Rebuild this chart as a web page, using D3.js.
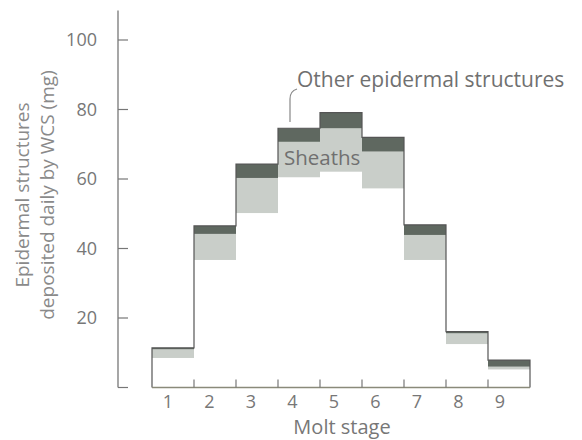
<!DOCTYPE html>
<html>
<head>
<meta charset="utf-8">
<script src="https://cdn.jsdelivr.net/npm/d3@7"></script>
<style>
  html, body { margin: 0; padding: 0; background: #fff; }
  svg { display: block; font-family: "Open Sans", sans-serif; }
</style>
</head>
<body>
<svg id="chart" width="582" height="440"></svg>
<script>
// ---- data ----
const stages = [1, 2, 3, 4, 5, 6, 7, 8, 9];
const baseWhite = [8.5, 36.7, 50.2, 60.5, 62.1, 57.3, 36.7, 12.5, 5.2];
const sheaths   = [2.5, 7.5, 10.1, 10.2, 12.5, 10.6, 7.2, 3.1, 0.8];
const other     = [0.4, 2.3, 4.0, 3.9, 4.5, 4.1, 2.9, 0.5, 1.9];
const yTicks = [0, 20, 40, 60, 80, 100];
const yTickLabels = ["", "20", "40", "60", "80", "100"];
const xTickLabels = ["1", "2", "3", "4", "5", "6", "7", "8", "9"];
const boundaries = [1.5, 2.5, 3.5, 4.5, 5.5, 6.5, 7.5, 8.5];

const svg = d3.select("#chart");

const x = d3.scaleLinear().domain([0.5, 9.5]).range([152, 530]);
const xLab = d3.scaleLinear().domain([1, 9]).range([168, 500]);
const y = d3.scaleLinear().domain([0, 100]).range([387.5, 40]);

const rows = stages.map((s, i) => ({
  stage: s,
  b: baseWhite[i],
  s1: baseWhite[i] + sheaths[i],
  t: baseWhite[i] + sheaths[i] + other[i]
}));

// sheaths band
svg.append("g").selectAll("rect").data(rows).join("rect")
  .attr("x", d => x(d.stage - 0.5))
  .attr("width", d => x(d.stage + 0.5) - x(d.stage - 0.5))
  .attr("y", d => y(d.s1))
  .attr("height", d => y(d.b) - y(d.s1))
  .attr("fill", "#c9cec9");

// other band
svg.append("g").selectAll("rect").data(rows).join("rect")
  .attr("x", d => x(d.stage - 0.5))
  .attr("width", d => x(d.stage + 0.5) - x(d.stage - 0.5))
  .attr("y", d => y(d.t))
  .attr("height", d => y(d.s1) - y(d.t))
  .attr("fill", "#5f6860");

// step outline
const pts = [[x(0.5), y(0)]];
rows.forEach(d => {
  pts.push([x(d.stage - 0.5), y(d.t)]);
  pts.push([x(d.stage + 0.5), y(d.t)]);
});
pts.push([x(9.5), y(0)]);
svg.append("path")
  .attr("d", d3.line()(pts))
  .attr("fill", "none")
  .attr("stroke", "#555")
  .attr("stroke-width", 1.2);

// x axis line and ticks
svg.append("line")
  .attr("x1", x(0.5)).attr("x2", x(9.5))
  .attr("y1", y(0)).attr("y2", y(0))
  .attr("stroke", "#8a8a7a").attr("stroke-width", 1.3);
svg.append("g").selectAll("line").data(boundaries).join("line")
  .attr("x1", d => x(d)).attr("x2", d => x(d))
  .attr("y1", y(0)).attr("y2", y(0) - 8)
  .attr("stroke", "#777").attr("stroke-width", 1.2);
svg.append("g").selectAll("text").data(stages).join("text")
  .attr("x", d => xLab(d))
  .attr("y", 408)
  .attr("text-anchor", "middle")
  .attr("font-size", 18)
  .attr("fill", "#777")
  .text((d, i) => xTickLabels[i]);

// y axis
svg.append("line")
  .attr("x1", 118).attr("x2", 118)
  .attr("y1", y(0)).attr("y2", y(108.5))
  .attr("stroke", "#777").attr("stroke-width", 1.3);
svg.append("g").selectAll("line").data(yTicks).join("line")
  .attr("x1", 118).attr("x2", 128)
  .attr("y1", d => y(d)).attr("y2", d => y(d))
  .attr("stroke", "#777").attr("stroke-width", 1.2);
svg.append("g").selectAll("text").data(yTicks).join("text")
  .attr("x", 97)
  .attr("y", d => y(d) + 6)
  .attr("text-anchor", "end")
  .attr("font-size", 18)
  .attr("fill", "#777")
  .text((d, i) => yTickLabels[i]);

// axis titles
svg.append("text")
  .attr("x", 342).attr("y", 434)
  .attr("text-anchor", "middle")
  .attr("font-size", 20)
  .attr("fill", "#777")
  .text("Molt stage");
const yt = svg.append("text")
  .attr("transform", "translate(0,195) rotate(-90)")
  .attr("text-anchor", "middle")
  .attr("font-size", 19)
  .attr("fill", "#8a8a8a");
yt.append("tspan").attr("x", 0).attr("y", 29).text("Epidermal structures");
yt.append("tspan").attr("x", 0).attr("y", 54).text("deposited daily by WCS (mg)");

// annotations
svg.append("text")
  .attr("x", 284).attr("y", 165)
  .attr("font-size", 20.5)
  .attr("fill", "#707070")
  .text("Sheaths");
svg.append("text")
  .attr("x", 297).attr("y", 87)
  .attr("font-size", 21)
  .attr("fill", "#707070")
  .text("Other epidermal structures");
svg.append("path")
  .attr("d", "M297,89 Q290,91 290,99 L290,122")
  .attr("fill", "none")
  .attr("stroke", "#888")
  .attr("stroke-width", 1.2);
</script>
</body>
</html>
